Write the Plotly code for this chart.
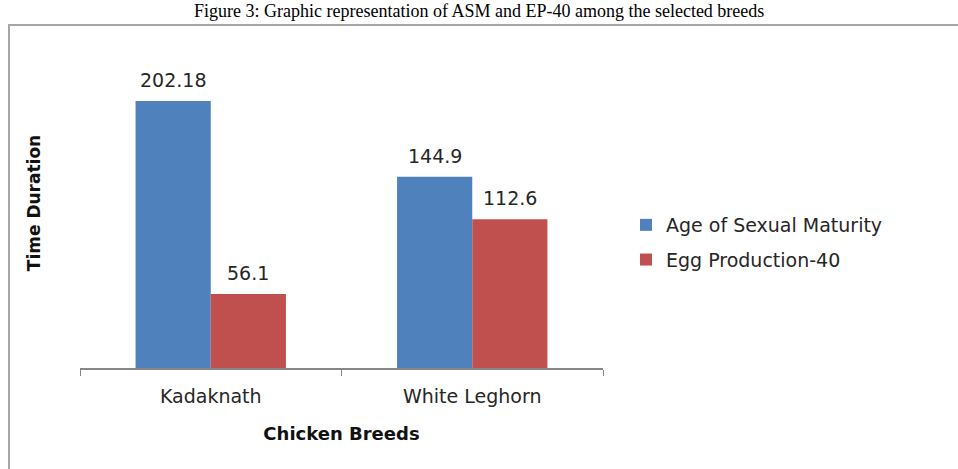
import plotly.graph_objects as go

breeds = ["Kadaknath", "White Leghorn"]
asm = [202.18, 144.9]
ep40 = [56.1, 112.6]
asm_labels = ["202.18", "144.9"]
ep_labels = ["56.1", "112.6"]
series_names = ["Age of Sexual Maturity", "Egg Production-40"]
title_text = "Figure 3: Graphic representation of ASM and EP-40 among the selected breeds"

W, H = 958, 469
L, R, T, B = 80, 355, 38, 101
pw, ph = W - L - R, H - T - B
BARGAP = 0.425
FONT = "DejaVu Sans, Verdana, Arial"
TXT = "#262626"

def px2x(p):
    return (p - L) / pw

def py2y(p):
    return (H - B - p) / ph

fig = go.Figure()
fig.add_trace(go.Bar(x=breeds, y=asm, name=series_names[0], legendgroup="g1",
                     marker=dict(color="#4F81BD", line=dict(width=0))))
fig.add_trace(go.Bar(x=breeds, y=ep40, name=series_names[1], legendgroup="g2",
                     marker=dict(color="#C0504D", line=dict(width=0))))

# value labels above each bar
bar_w = pw / len(breeds) * (1 - BARGAP) / 2
for vals, labs, sign in [(asm, asm_labels, -1), (ep40, ep_labels, 1)]:
    for b, v, s in zip(breeds, vals, labs):
        fig.add_annotation(x=b, y=v, xref="x", yref="y", text=s, showarrow=False,
                           xshift=sign * bar_w / 2, yshift=8, yanchor="bottom",
                           font=dict(family=FONT, size=19, color=TXT))

fig.update_layout(
    width=W, height=H,
    margin=dict(l=L, r=R, t=T, b=B),
    paper_bgcolor="white", plot_bgcolor="white",
    barmode="group", bargap=BARGAP, bargroupgap=0,
    font=dict(family=FONT, size=19, color=TXT),
    showlegend=True,
    legend=dict(x=px2x(626), y=py2y(206), xanchor="left", yanchor="top",
                font=dict(family=FONT, size=19, color=TXT), itemwidth=30,
                tracegroupgap=7, bgcolor="rgba(0,0,0,0)"),
    xaxis=dict(showline=True, linecolor="#868686", linewidth=1.5,
               ticks="outside", ticklen=6, tickcolor="#868686", tickson="boundaries",
               ticklabelstandoff=10,
               tickfont=dict(family=FONT, size=19, color=TXT),
               title=dict(text="<b>Chicken Breeds</b>", font=dict(family=FONT, size=18, color="#111"), standoff=22),
               showgrid=False),
    yaxis=dict(range=[0, 250], showline=False, showgrid=False, showticklabels=False,
               ticks="", zeroline=False,
               title=dict(text="<b>Time Duration</b>", font=dict(family=FONT, size=17, color="#111"), standoff=34)),
)

fig.add_shape(type="rect", xref="paper", yref="paper",
              x0=px2x(9), x1=px2x(1000), y0=py2y(520), y1=py2y(25),
              line=dict(color="#A6A6A6", width=2), fillcolor="rgba(0,0,0,0)", layer="below")

fig.add_annotation(text=title_text,
                   xref="paper", yref="paper", x=px2x(479), y=py2y(23),
                   xanchor="center", yanchor="bottom", showarrow=False,
                   font=dict(family="Liberation Serif, Times New Roman", size=18, color="#000"))

fig.write_html("out.html")
